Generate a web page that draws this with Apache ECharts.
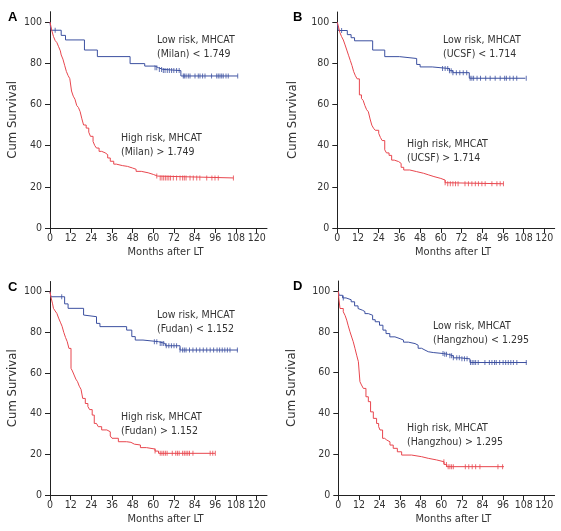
<!DOCTYPE html>
<html><head><meta charset="utf-8">
<script src="https://cdn.jsdelivr.net/npm/echarts@6/dist/echarts.min.js"></script>
<style>html,body{margin:0;padding:0;background:#fff}#c{width:561px;height:531px}</style>
</head><body><div id="c"></div>
<script>
// ---- data (months after LT, cumulative survival %) ----
const xTicks = [0,12,24,36,48,60,72,84,96,108,120];
const yTicks = [0,20,40,60,80,100];
const panelLetters = ['A','B','C','D'];
const lowLabels = ['Low risk, MHCAT\n(Milan) < 1.749','Low risk, MHCAT\n(UCSF) < 1.714','Low risk, MHCAT\n(Fudan) < 1.152','Low risk, MHCAT\n(Hangzhou) < 1.295'];
const highLabels = ['High risk, MHCAT\n(Milan) > 1.749','High risk, MHCAT\n(UCSF) > 1.714','High risk, MHCAT\n(Fudan) > 1.152','High risk, MHCAT\n(Hangzhou) > 1.295'];

// Panel A (Milan)
const lowA_t = [0,0.5,6.5,9,20,27.5,46.5,55,61,63,65.5,76,109];
const lowA_s = [100,96,93.5,91.3,86.4,83.2,79.8,78.6,77.8,77,76.4,73.8,73.8];
const highA_t = [0,0.5,1,2,3,4,5,6,6.5,7.5,8.5,9.5,10.5,11.5,12.5,13.5,14.5,15.5,16.5,17.5,18.5,19.5,21,22.5,23.5,25,26,27,28.5,30,32,33.5,35,37,38.5,42,45,48,50,53,57,60,62.5,106.5];
const highA_s = [100,98,96,93,91,90,88,86,84,82,79,76,74,72.5,66.5,64,62.5,59.5,58.5,56.5,53,50,48.5,46.5,44.5,42,40,38.8,37.2,36.5,35.6,34,32.4,31,30.3,29.9,29.1,28.5,27.5,26.8,26,25.2,24.3,24.3];
const lowA_c = [3,61,62,63.5,64.8,65.8,66.8,68.1,69.3,70.6,71.9,73.5,75,77.4,78,79,80.3,81.3,84.2,86.1,87.1,88.6,90,93.8,96.8,97.7,98.7,99.7,100.6,102.2,103.5,109];
const highA_c = [62,64,65,66,67,68,69,70,71.6,73.5,75.5,77,78,79,81.3,83.2,85.2,87,91,94,95.8,97.7,106.5];

// Panel B (UCSF)
const lowB_t = [0,0.5,5.8,8,10,20.5,27.5,36,46,48,55,65,67,76.5,109];
const lowB_s = [100,96,94,92.5,91,86.5,83.3,82.4,79.5,78.3,77.5,76.5,75.5,72.8,72.8];
const highB_t = [0,0.5,1.5,2.5,3.5,4.5,5.5,6.5,7.5,8.5,9.5,10.5,11.5,12.8,14,15,16,17,18,19,20,21,22,24,25,26,27.5,28.5,30,31.5,33,35.5,37,38.5,42,46,50,53,56,60,62.5,64,96.3];
const highB_s = [100,98.5,95,93,91.4,89,86.5,84,81.5,79,76,74,72.5,64.7,63,62,59.5,57.5,56.5,53,50,48.5,47.5,46,44,42.5,38,36.5,35.3,33,32.3,31.4,29.5,28.2,27.4,26.6,25.8,25,24.1,23.3,22,21.5,21.5];
const lowB_c = [2.5,61,62.5,64,65,66,67,69,71,73,75,77,78,79,81,83,86,88.6,91.5,94.4,97,98,100,102,104,109.5];
const highB_c = [62.5,64,65.5,67,68.5,70,74,76,78,80,81.8,83.8,85.7,89.6,92.5,94.4,96.3];

// Panel C (Fudan)
const lowC_t = [0,0.5,8.5,10.5,19.5,20.5,27,29,44.5,47.5,49.5,54,63,67,75.5,109];
const lowC_s = [100,97.5,94,91.8,88.5,87.7,84.4,82.8,81.1,77.9,76.2,75.4,74.5,73.4,71.3,71.3];
const highC_t = [0,0.5,1.5,2,3,4,5,6,7,8,9,10,11,12.2,13,14,15,16,17,18,19,20.5,22,23,24.5,25.7,27,28,30,33,35,36,39.7,44.5,47,49,52.5,56,61,63,95.8];
const highC_s = [100,97.5,94,91.8,90.5,89.3,87,85,83,80,77.5,75.4,72.1,62.3,61,59,57,55.7,53.5,52,47.5,45,43.5,42,39.3,35.2,34.5,33.6,32,31.1,29,27.9,26.2,25.9,25,24.6,23.3,22.6,21.6,20.5,20.5];
const lowC_c = [6.8,60.6,62,64,65,66,67.5,69,70.5,72,73.5,75.5,77,78,79,81,83,85,87,89,91,93,95,97,98.5,100,101.5,103,104.5,108.8];
const highC_c = [61,64,65,66,67,68,71,73,74,75,77,78,79,80,81,83,93,94.5,96];

// Panel D (Hangzhou)
const lowD_t = [0,0.5,2.5,4.5,7.5,9.5,11.5,12.6,14,15.5,17.5,20,21.5,24,26,27.8,30,33,36,38,40.8,44.7,46.5,48.5,50.5,52.4,55.3,61.2,64.1,67,71,76.7,109.7];
const lowD_s = [100,98,96.7,95.8,94.8,92.8,91.5,90.7,90,89,88.2,86,85,83.3,80.9,79.2,77.6,76.7,76,75,74.3,73.5,72,71.1,70.3,69.9,69.4,69,68.3,67.3,66.8,65,65];
const highD_t = [0,0.3,1,2.9,4,4.9,5.8,6.8,7.8,8.7,9.7,10.7,11.7,12.6,13.5,14.6,16.1,17.5,18.8,20.4,22.3,23.5,24.3,25.8,27,28.2,30.1,32,34.4,36.9,42.7,48.5,52.4,57.3,61.6,63.1,96.5];
const highD_s = [100,96.4,91.5,89.9,88,85.8,83,80.1,77.5,75.2,72,68.6,65.4,55.6,54,52.3,48.2,45.8,40.8,37.6,35.1,33.5,31.9,27.8,27,26.1,24.5,22.9,21.2,19.6,18.8,18,17.2,16.3,15,13.9,13.9];
const lowD_c = [2.9,61,62,63,65,66,67,69,70.5,72,73.5,75,77,78,79,80,81.5,85.4,88,89.5,91,92,94,96,97.5,99,100.5,102,104,109.5];
const highD_c = [61.5,63,64,65,66,67,74,76,78,80,82.5,93,95.7];

// ---- build ----
const panels = [
  {low:[lowA_t,lowA_s,lowA_c], high:[highA_t,highA_s,highA_c]},
  {low:[lowB_t,lowB_s,lowB_c], high:[highB_t,highB_s,highB_c]},
  {low:[lowC_t,lowC_s,lowC_c], high:[highC_t,highC_s,highC_c]},
  {low:[lowD_t,lowD_s,lowD_c], high:[highD_t,highD_s,highD_c]}
];
const grids = [
  {left:50, top:11.7, width:217, height:216.3},
  {left:337.3, top:12, width:217.4, height:216},
  {left:50, top:281.5, width:217, height:213.5},
  {left:338.3, top:281, width:216.3, height:214}
];
const yNameGaps = [31, 38, 31, 40];
const lowPos = [[157,33],[443,33],[157,308],[433,319]];
const highPos = [[121,131],[407,137],[121,410],[407,421]];
const letterPos = [[8,11],[293,11],[8,281],[293,280]];

const FONT = "'DejaVu Sans Condensed','DejaVu Sans',sans-serif";
const TXT = '#333';
const BLUE = '#3c50a0', RED = '#e8464e';

function stepAt(ts, ss, t){ let v = ss[0]; for (let i=0;i<ts.length;i++){ if (ts[i] <= t) v = ss[i]; } return v; }
function pairs(ts, ss){ return ts.map((t,i)=>[t, ss[i]]); }

const option = {animation:false, grid:[], xAxis:[], yAxis:[], series:[], graphic:[]};
panels.forEach((p, k) => {
  option.grid.push(Object.assign({containLabel:false}, grids[k]));
  option.xAxis.push({
    gridIndex:k, type:'value', min:0, max:126,
    name:'Months after LT', nameLocation:'middle', nameGap:19,
    nameTextStyle:{color:TXT, fontFamily:FONT, fontSize:11, padding:[0,0,0,14]},
    axisLine:{lineStyle:{color:'#222', width:1}},
    axisTick:{show:true, length:5, lineStyle:{color:'#222'}, customValues:xTicks},
    axisLabel:{color:TXT, fontFamily:FONT, fontSize:10.5, margin:5, customValues:xTicks},
    splitLine:{show:false}
  });
  option.yAxis.push({
    gridIndex:k, type:'value', min:0, max:105,
    name:'Cum Survival', nameLocation:'middle', nameGap:yNameGaps[k], nameRotate:90,
    nameTextStyle:{color:TXT, fontFamily:FONT, fontSize:13, padding:[0,0,0,0]},
    axisLine:{show:true, lineStyle:{color:'#222', width:1}},
    axisTick:{show:true, length:5, lineStyle:{color:'#222'}, customValues:yTicks},
    axisLabel:{color:TXT, fontFamily:FONT, fontSize:10.5, margin:8, customValues:yTicks},
    splitLine:{show:false}
  });
  [['low',BLUE],['high',RED]].forEach(([key, col]) => {
    const [ts, ss, cs] = p[key];
    option.series.push({
      type:'line', xAxisIndex:k, yAxisIndex:k, step:'end', symbol:'none',
      lineStyle:{color:col, width:1}, data:pairs(ts, ss), silent:true
    });
    option.series.push({
      type:'scatter', xAxisIndex:k, yAxisIndex:k, symbol:'rect', symbolSize:[1,5],
      itemStyle:{color:col}, data:cs.map(t=>[t, stepAt(ts, ss, t)]), silent:true
    });
  });
  option.graphic.push({type:'text', left:letterPos[k][0], top:letterPos[k][1],
    style:{text:panelLetters[k], fill:'#000', font:"bold 13px 'Liberation Sans', Arial, sans-serif"}});
  option.graphic.push({type:'text', left:lowPos[k][0], top:lowPos[k][1],
    style:{text:lowLabels[k], fill:TXT, fontFamily:FONT, fontSize:10.5, lineHeight:14}});
  option.graphic.push({type:'text', left:highPos[k][0], top:highPos[k][1],
    style:{text:highLabels[k], fill:TXT, fontFamily:FONT, fontSize:10.5, lineHeight:14}});
});
const chart = echarts.init(document.getElementById('c'), null, {renderer:'canvas'});
chart.setOption(option);
</script></body></html>
